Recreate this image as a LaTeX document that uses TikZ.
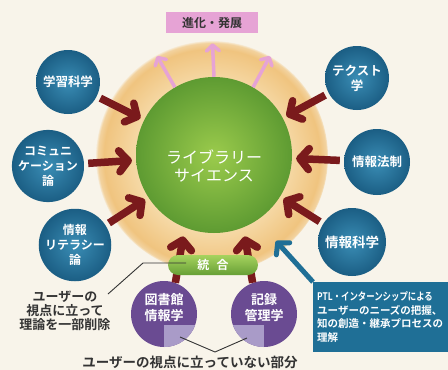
\documentclass[tikz,border=0pt]{standalone}
\usepackage{fontspec}
\setmainfont{Noto Sans CJK JP}[BoldFont={Noto Sans CJK JP Bold}]
\usetikzlibrary{arrows.meta,calc}

\definecolor{bg}{HTML}{F8F4EA}
\definecolor{ringin}{HTML}{F6DAA8}
\definecolor{ringout}{HTML}{F0C47F}
\definecolor{grin}{HTML}{9BCB4C}
\definecolor{grout}{HTML}{5E9B32}
\definecolor{bluein}{HTML}{3A8DB5}
\definecolor{blueout}{HTML}{1B5E84}
\definecolor{purp}{HTML}{6A4B92}
\definecolor{lpurp}{HTML}{A99BC8}
\definecolor{darkred}{HTML}{7A1A1C}
\definecolor{pinkc}{HTML}{E6A3D5}
\definecolor{tealc}{HTML}{1F6F96}
\definecolor{txt}{HTML}{333333}
\definecolor{pilltop}{HTML}{A6D35E}
\definecolor{pillbot}{HTML}{679F36}

\pgfdeclareradialshading{ringshade}{\pgfpoint{0bp}{0bp}}{color(0bp)=(ringin); color(16bp)=(ringin); color(23.3bp)=(ringout); color(24.6bp)=(ringout!70!bg); color(25.2bp)=(bg); color(50bp)=(bg)}

\tikzset{
  bluecirc/.style={circle, inner sep=0pt, minimum size=64pt, inner color=bluein, outer color=blueout, text=white, align=center, font=\bfseries\fontsize{12.5}{15}\selectfont},
  purpcirc/.style={circle, inner sep=0pt, minimum size=66pt, fill=purp, text=white, align=center, font=\bfseries\fontsize{13}{16}\selectfont},
  redarr/.style={draw=darkred, line width=7.5pt, -{Straight Barb[length=9pt,width=21pt,round]}, shorten <=4pt, shorten >=4pt},
  pinkarr/.style={draw=pinkc, line width=3.5pt, -{Straight Barb[length=6pt,width=13pt,round]}},
  tealarr/.style={draw=tealc, line width=5pt, -{Straight Barb[length=8pt,width=18pt,round]}},
  thinline/.style={draw=txt, line width=0.9pt},
}

\begin{document}
\begin{tikzpicture}[x=1pt,y=-1pt]
\fill[bg] (0,0) rectangle (448,370);
\useasboundingbox (0,0) rectangle (448,370);

% ring and core
\node[circle, minimum size=232pt, inner sep=0pt, shading=ringshade] (ring) at (212,157) {};
\node[circle, minimum size=156pt, inner sep=0pt, inner color=grin, outer color=grout] (ls) at (214,155) {};
\node[text=white, align=center, font=\fontsize{16}{18}\selectfont] (lstext) at (214,166) {ライブラリー\\サイエンス};

% evolution box and pink arrows
\node[fill=pinkc, minimum width=92pt, minimum height=21pt, inner sep=0pt, text=txt, font=\bfseries\fontsize{12}{14}\selectfont] (evo) at (212,22.5) {進化・発展};
\coordinate (pl) at (157,56);
\coordinate (pr) at (270,56);
\draw[pinkarr] (ls.120) -- (pl);
\draw[pinkarr, shorten >=10pt] (ls.90) -- (evo.south);
\draw[pinkarr] (ls.60) -- (pr);

% blue circles
\node[bluecirc] (gk) at (68,82) {学習科学};
\node[bluecirc, font=\bfseries\fontsize{12}{15}\selectfont] (cm) at (48,166) {コミュニ\\ケーション\\論};
\node[bluecirc, font=\bfseries\fontsize{12}{15}\selectfont] (lit) at (75,245) {情報\\リテラシー\\論};
\node[bluecirc] (tx) at (357,78) {テクスト\\学};
\node[bluecirc, minimum size=66pt] (law) at (377,162) {情報法制};
\node[bluecirc, minimum size=68pt, font=\bfseries\fontsize{13.5}{16}\selectfont] (inf) at (352,242) {情報科学};

% purple circles
\node[purpcirc] (lib) at (164,314) {};
\node[purpcirc] (rec) at (264,314) {};
\begin{scope}
  \clip (lib.center) circle (33);
  \fill[lpurp] ($(lib.center)+(0,11)$) rectangle ($(lib.center)+(40,40)$);
\end{scope}
\begin{scope}
  \clip (rec.center) circle (33);
  \fill[lpurp] ($(rec.center)+(0,11)$) rectangle ($(rec.center)+(-40,40)$);
\end{scope}
\node[text=white, align=center, font=\bfseries\fontsize{13}{16}\selectfont] (libt) at (164,308) {図書館\\情報学};
\node[text=white, align=center, font=\bfseries\fontsize{13}{16}\selectfont] (rect) at (264,308) {記録\\管理学};

% red arrows
\draw[redarr] (gk) -- (ls);
\draw[redarr] (cm) -- (ls);
\draw[redarr] (lit) -- (ls);
\draw[redarr] (tx) -- (ls);
\draw[redarr] (law) -- (ls);
\draw[redarr] (inf) -- (ls);
\draw[redarr, shorten <=0pt, shorten >=9pt] (lib.70) -- (ls.248);
\draw[redarr, shorten <=0pt, shorten >=9pt] (rec.110) -- (ls.292);

% integration pill
\node[rounded corners=10pt, minimum width=90pt, minimum height=20pt, inner sep=0pt, top color=pilltop, bottom color=pillbot, text=white, font=\bfseries\fontsize{12}{14}\selectfont] (pill) at (213,265) {統\hspace{0.6em}合};

% teal box and arrow
\node[fill=tealc, anchor=north west, minimum width=135pt, minimum height=70pt, text width=127pt, inner xsep=4pt, inner ysep=0pt, align=left, text=white, font=\bfseries\fontsize{10.5}{13.5}\selectfont] (ptl) at (313,282) {\scalebox{0.8}[1]{PTL・インターンシップによる}\\ユーザーのニーズの把握、\\知の創造・継承プロセスの\\理解};
\coordinate (ta) at (276,241);
\draw[tealarr] (ptl.north west) -- (ta);

% notes
\node[text=txt, align=center, font=\bfseries\fontsize{13}{14}\selectfont] (note) at (65,311) {ユーザーの\\視点に立って\\理論を一部削除};
\coordinate (n1) at (108,294);
\coordinate (k1) at (143,263);
\coordinate (k2) at (186,263);
\draw[thinline] (n1) -- (k1) -- (k2);

\node[text=txt, font=\bfseries\fontsize{13.5}{15}\selectfont] (bot) at (190,362) {ユーザーの視点に立っていない部分};
\coordinate (v1) at (180,337);
\coordinate (v0) at (215,352);
\coordinate (v2) at (247,338);
\draw[thinline] (v1) -- (v0) -- (v2);
\end{tikzpicture}
\end{document}
